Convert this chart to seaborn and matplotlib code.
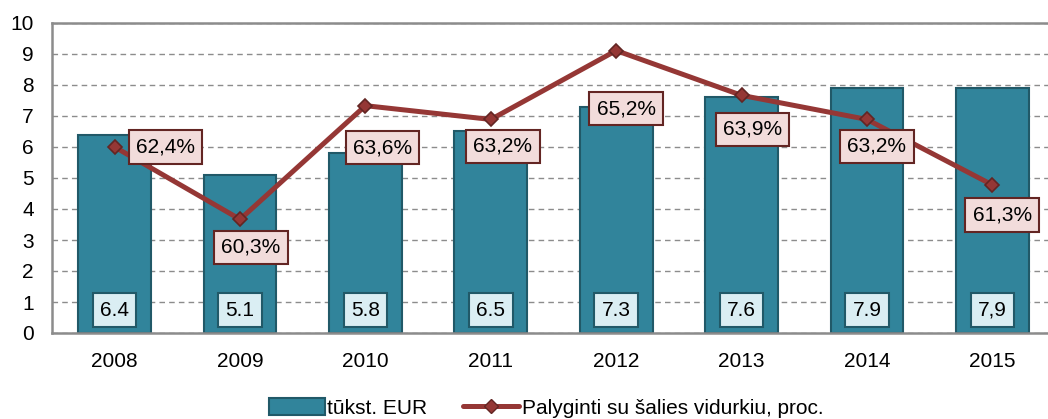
import numpy as np
import matplotlib
matplotlib.use("Agg")
import matplotlib.pyplot as plt
from matplotlib.lines import Line2D
from matplotlib.patches import Patch
import seaborn as sns

# data
years = ["2008", "2009", "2010", "2011", "2012", "2013", "2014", "2015"]
eur_thousands = [6.4, 5.1, 5.8, 6.5, 7.3, 7.6, 7.9, 7.9]
eur_labels = ["6.4", "5.1", "5.8", "6.5", "7.3", "7.6", "7.9", "7,9"]
pct_of_avg = [62.4, 60.3, 63.6, 63.2, 65.2, 63.9, 63.2, 61.3]

# label offsets (pixels) for the percent boxes
pct_offsets = [(51, 0), (11, -28), (17, -42), (12, -27), (10, -58), (11, -34), (10, -27), (10, -30)]

bar_color = "#31849B"
bar_edge = "#215968"
line_color = "#953735"
dark_red = "#632523"

sns.set_style("white")
plt.rcParams["font.family"] = ["Liberation Sans", "DejaVu Sans"]
plt.rcParams["text.color"] = "black"
plt.rcParams["xtick.color"] = "black"
plt.rcParams["ytick.color"] = "black"

fig = plt.figure(figsize=(10.48, 4.19), dpi=100)
ax = fig.add_axes([52 / 1048, 1 - 333 / 419, 1003 / 1048, (333 - 23) / 419])

sns.barplot(x=years, y=eur_thousands, ax=ax, color=bar_color, width=0.58,
            edgecolor=bar_edge, linewidth=1.5, saturation=1, zorder=2)

ax.set_ylim(0, 10)
ax.set_xlim(-0.5, 7.5)
ax.set_yticks(range(0, 11))
ax.yaxis.grid(True, linestyle=(0, (4, 3)), color="#8c8c8c", linewidth=1)
ax.set_axisbelow(True)
ax.tick_params(axis="y", length=0, labelsize=15, pad=13)
ax.tick_params(axis="x", which="major", length=0, labelsize=15, pad=14)
ax.set_xticks(np.arange(-0.5, 8, 1), minor=True)
ax.tick_params(axis="x", which="minor", length=5, width=1.5, color="#8c8c8c", direction="out")
for s in ["left", "bottom", "top"]:
    ax.spines[s].set_color("#8c8c8c")
    ax.spines[s].set_linewidth(1.8)
ax.spines["right"].set_visible(False)
ax.set_xlabel("")
ax.set_ylabel("")

for i, lab in enumerate(eur_labels):
    ax.text(i, 0.74, lab, ha="center", va="center", fontsize=15, zorder=5,
            bbox=dict(boxstyle="square,pad=0.35", facecolor="#DAEEF3", edgecolor=bar_edge, linewidth=1.5))

ax2 = ax.twinx()
sns.pointplot(x=years, y=pct_of_avg, ax=ax2, color=line_color, markers="D",
              linestyles="-", markersize=7)
for ln in ax2.lines:
    ln.set_linewidth(3.6)
    ln.set_markeredgecolor(dark_red)
    ln.set_markeredgewidth(1.2)
ax2.set_ylim(57, 66)
ax2.set_xlim(-0.5, 7.5)
ax2.set_yticks([])
ax2.set_ylabel("")
for s in ax2.spines.values():
    s.set_visible(False)

for i, (v, off) in enumerate(zip(pct_of_avg, pct_offsets)):
    ax2.annotate(f"{v:.1f}%".replace(".", ","), (i, v), xytext=off, textcoords="offset pixels",
                 ha="center", va="center", fontsize=15, zorder=6,
                 bbox=dict(boxstyle="square,pad=0.35", facecolor="#F2DCDB", edgecolor=dark_red, linewidth=1.5))

handles = [
    Patch(facecolor=bar_color, edgecolor=bar_edge, linewidth=1.5),
    Line2D([0], [0], color=line_color, linewidth=3.6, marker="D", markersize=7,
           markeredgecolor=dark_red),
]
fig.legend(handles, ["tūkst. EUR", "Palyginti su šalies vidurkiu, proc."], loc="center",
           bbox_to_anchor=(546 / 1048, 1 - 408 / 419), ncol=2, frameon=False, fontsize=15,
           handlelength=2.7, handleheight=0.85, handletextpad=0.12, columnspacing=1.7)

fig.savefig("out.png", dpi=100)
